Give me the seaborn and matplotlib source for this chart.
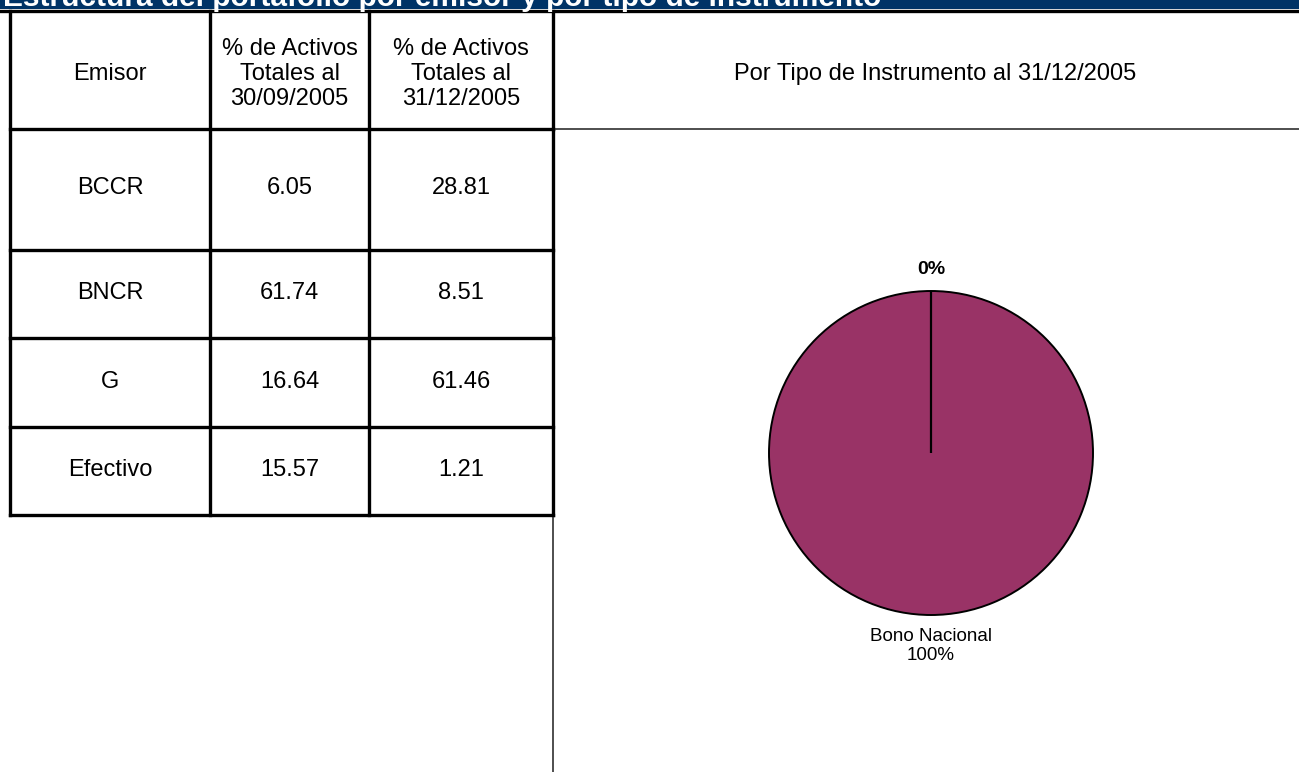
import matplotlib
matplotlib.use("Agg")
import matplotlib.pyplot as plt
import numpy as np
import seaborn as sns
from matplotlib.lines import Line2D
from matplotlib.patches import Rectangle

# ---- data ----
title = "Estructura del portafolio por emisor y por tipo de instrumento"
col_headers = ["Emisor", "% de Activos\nTotales al\n30/09/2005", "% de Activos\nTotales al\n31/12/2005"]
emisores = ["BCCR", "BNCR", "G", "Efectivo"]
pct_sep = [6.05, 61.74, 16.64, 15.57]
pct_dic = [28.81, 8.51, 61.46, 1.21]
pie_title = "Por Tipo de Instrumento al 31/12/2005"
pie_labels = ["", "Bono Nacional"]
pie_values = [0.0, 100.0]
pie_colors = ["#993366", "#993366"]

sns.set_theme(style="white")
plt.rcParams['font.family'] = ['Liberation Sans', 'DejaVu Sans']
plt.rcParams['text.color'] = 'black'

W, H = 1299, 772
fig = plt.figure(figsize=(W / 100, H / 100), dpi=100)
fig.patch.set_facecolor("white")

def fx(x):
    return x / W

def fy(y):
    return 1 - y / H

def hline(y, x0, x1, lw, color="black"):
    fig.add_artist(Line2D([fx(x0), fx(x1)], [fy(y), fy(y)], lw=lw, color=color,
                          solid_capstyle="projecting"))

def vline(x, y0, y1, lw, color="black"):
    fig.add_artist(Line2D([fx(x), fx(x)], [fy(y0), fy(y1)], lw=lw, color=color,
                          solid_capstyle="projecting"))

# ---- banner ----
fig.add_artist(Rectangle((0, fy(9)), 1, 9 / H, transform=fig.transFigure,
                         facecolor="#003366", edgecolor="none"))
fig.text(fx(3), fy(6), title, color="white", fontsize=21.5, fontweight="bold",
         ha="left", va="baseline")
hline(10.5, 0, W, 2.4)

# ---- table ----
col_x = [10, 210, 369, 553]
row_y = [11, 129, 250, 338, 427, 515]
fs = 17
for i in range(3):
    cx = (col_x[i] + col_x[i + 1]) / 2
    fig.text(fx(cx), fy(74), col_headers[i], ha="center", va="center",
             fontsize=fs, linespacing=1.2)
for r, (e, a, b) in enumerate(zip(emisores, pct_sep, pct_dic)):
    cy = (row_y[r + 1] + row_y[r + 2]) / 2 - 1
    vals = [e, f"{a:.2f}", f"{b:.2f}"]
    for i in range(3):
        cx = (col_x[i] + col_x[i + 1]) / 2
        fig.text(fx(cx), fy(cy), vals[i], ha="center", va="center", fontsize=fs)

for y in row_y[1:]:
    hline(y, col_x[0], col_x[-1], 2.4)
for x in col_x[:3]:
    vline(x, row_y[0], row_y[-1], 2.4)
vline(col_x[3], row_y[0], row_y[1], 2.4)
vline(col_x[3], row_y[1], H, 1.3, color="#404040")
hline(row_y[1], col_x[3], W, 1.3, color="#404040")
vline(col_x[3], row_y[1], row_y[-1], 2.4)

# ---- pie ----
fig.text(fx(935), fy(74), pie_title, ha="center", va="center", fontsize=fs)
cxp, cyp, rad = 931, 453, 162
ax = fig.add_axes([fx(cxp - rad), fy(cyp + rad), 2 * rad / W, 2 * rad / H])
wedges, _ = ax.pie(pie_values, colors=pie_colors, startangle=90, counterclock=False,
                   wedgeprops=dict(edgecolor="black", linewidth=1.4))
ax.set_xlim(-1, 1)
ax.set_ylim(-1, 1)
ax.set_aspect("equal")
ax.axis("off")
total = sum(pie_values)
for w, lab, v in zip(wedges, pie_labels, pie_values):
    ang = np.deg2rad((w.theta1 + w.theta2) / 2)
    pct = f"{v / total * 100:.0f}%"
    if v == 0:
        # zero-width slice: its edge is a single radius line
        ax.plot([0, w.r * np.cos(ang)], [0, w.r * np.sin(ang)], color="black", lw=1.6,
                solid_capstyle="butt")
    if lab:
        d = 1.19
        ax.text(d * np.cos(ang), d * np.sin(ang), f"{lab}\n{pct}", ha="center", va="center",
                fontsize=13.5, clip_on=False, linespacing=1.15)
    else:
        d = 1.13
        ax.text(d * np.cos(ang), d * np.sin(ang), pct, ha="center", va="center",
                fontsize=14, fontweight="bold", clip_on=False)

fig.savefig("out.png", dpi=100)
